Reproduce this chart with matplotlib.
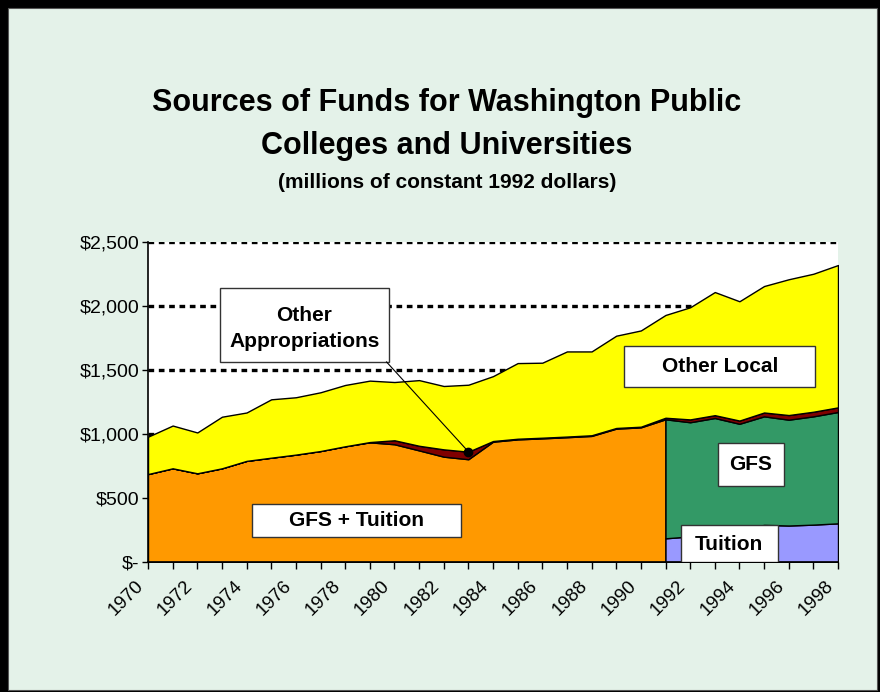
import numpy as np
import matplotlib
matplotlib.use("Agg")
import matplotlib.pyplot as plt
from matplotlib.patches import Rectangle
from matplotlib.transforms import ScaledTranslation

plt.rcParams['font.family'] = ['Liberation Sans', 'DejaVu Sans']

# data (millions of constant 1992 dollars)
years = np.arange(1970, 1999)
years_old = np.arange(1970, 1992)   # combined GFS + Tuition series
years_new = np.arange(1991, 1999)   # split series

gfs_tuition = [687, 732, 693, 732, 790, 815, 839, 867, 904, 935, 920,
               872, 823, 803, 940, 958, 966, 975, 985, 1042, 1052, 1115]
tuition = [185, 200, 220, 250, 290, 285, 292, 302]
gfs = [930, 892, 905, 830, 848, 827, 846, 870]
other_approp = [0, 0, 0, 0, 0, 0, 0, 0, 0, 2, 31, 36, 57, 59, 5, 5, 5, 5,
                5, 5, 5, 12, 22, 22, 25, 30, 36, 36, 36]
other_local = [292, 334, 319, 403, 378, 456, 448, 459, 479, 480, 455, 513,
               495, 523, 507, 591, 586, 665, 655, 721, 752, 803, 876, 962,
               932, 988, 1061, 1078, 1112]

yticks = [0, 500, 1000, 1500, 2000, 2500]
ytick_labels = ["$-", "$500", "$1,000", "$1,500", "$2,000", "$2,500"]

ORANGE = "#FF9900"
YELLOW = "#FFFF00"
DARKRED = "#800000"
GREEN = "#339966"
LILAC = "#9999FF"
PANEL = "#E4F2E9"

fig = plt.figure(figsize=(8.83, 6.98), dpi=100)
fig.patch.set_facecolor("white")

# outer frame and pale green panel
W, H = 883, 698
fig.add_artist(Rectangle((0, 6 / H), 880 / W, 692 / H, transform=fig.transFigure,
                         facecolor="black", edgecolor="none", zorder=-2))
fig.add_artist(Rectangle((8 / W, 8 / H), 869 / W, 682 / H, transform=fig.transFigure,
                         facecolor=PANEL, edgecolor="#555555", lw=0.8, zorder=-1))

ax = fig.add_axes([148 / W, 1 - 562 / H, 690 / W, 320 / H])
ax.set_zorder(2)
ax.set_facecolor("white")

gt = np.array(gfs_tuition, dtype=float)
tu = np.array(tuition, dtype=float)
gf = np.array(gfs, dtype=float)
oa = np.array(other_approp, dtype=float)
ol = np.array(other_local, dtype=float)
base = np.concatenate([gt[:-1], tu + gf])

kw = dict(edgecolor="black", linewidth=1.0, zorder=2)
ax.fill_between(years_old, 0, gt, facecolor=ORANGE, **kw)
ax.fill_between(years_new, 0, tu, facecolor=LILAC, **kw)
ax.fill_between(years_new, tu, tu + gf, facecolor=GREEN, **kw)
ax.fill_between(years, base, base + oa, facecolor=DARKRED, **kw)
ax.fill_between(years, base + oa, base + oa + ol, facecolor=YELLOW, **kw)

ax.set_xlim(1970, 1998)
ax.set_ylim(0, 2500)

# dashed gridlines behind the areas
for v in yticks[1:]:
    ax.axhline(v, color="black", lw=2.4, linestyle=(0, (1.7, 1.4)), zorder=1)

ax.set_yticks(yticks)
ax.set_yticklabels(ytick_labels, fontsize=14)
ax.set_xticks(years)
ax.set_xticklabels([str(y) if y % 2 == 0 else "" for y in years],
                   fontsize=13.5, rotation=45, ha="right", va="center",
                   rotation_mode="anchor")
ax.tick_params(axis="y", direction="out", length=4, width=1, pad=2)
ax.tick_params(axis="x", direction="out", length=5, width=1, pad=12)
shift = ScaledTranslation(-7 / 100, 2 / 100, fig.dpi_scale_trans)
for lab in ax.get_xticklabels():
    lab.set_transform(lab.get_transform() + shift)
for s in ["top", "right"]:
    ax.spines[s].set_visible(False)
for s in ["left", "bottom"]:
    ax.spines[s].set_linewidth(1.2)
    ax.spines[s].set_zorder(5)


def label_box(x0, x1, y0, y1, lines, ys):
    ax.add_patch(Rectangle((x0, y0), x1 - x0, y1 - y0, facecolor="white",
                           edgecolor="#333333", lw=1.0, zorder=6))
    for txt, yy in zip(lines, ys):
        ax.text((x0 + x1) / 2, yy, txt, ha="center", va="center",
                fontsize=15, fontweight="bold", zorder=7)


label_box(1972.92, 1979.78, 1562, 2141, ["Other", "Appropriations"], [1922, 1719])
label_box(1989.33, 1997.07, 1365, 1688, ["Other Local"], [1526])
label_box(1993.12, 1995.82, 594, 927, ["GFS"], [760])
label_box(1974.21, 1982.69, 193, 453, ["GFS + Tuition"], [323])
label_box(1991.62, 1995.55, 2, 289, ["Tuition"], [140])

# leader line to other appropriations
ax.plot([1979.68, 1983], [1563, 862], color="black", lw=0.8, zorder=6)
ax.plot([1983], [862], "o", color="black", ms=6, zorder=7, clip_on=False)

fig.text(0.506, 1 - 103 / H, "Sources of Funds for Washington Public",
         ha="center", va="center", fontsize=22, fontweight="bold")
fig.text(0.506, 1 - 146 / H, "Colleges and Universities",
         ha="center", va="center", fontsize=22, fontweight="bold")
fig.text(0.506, 1 - 183 / H, "(millions of constant 1992 dollars)",
         ha="center", va="center", fontsize=15, fontweight="bold")

fig.savefig("out.png", dpi=100)
